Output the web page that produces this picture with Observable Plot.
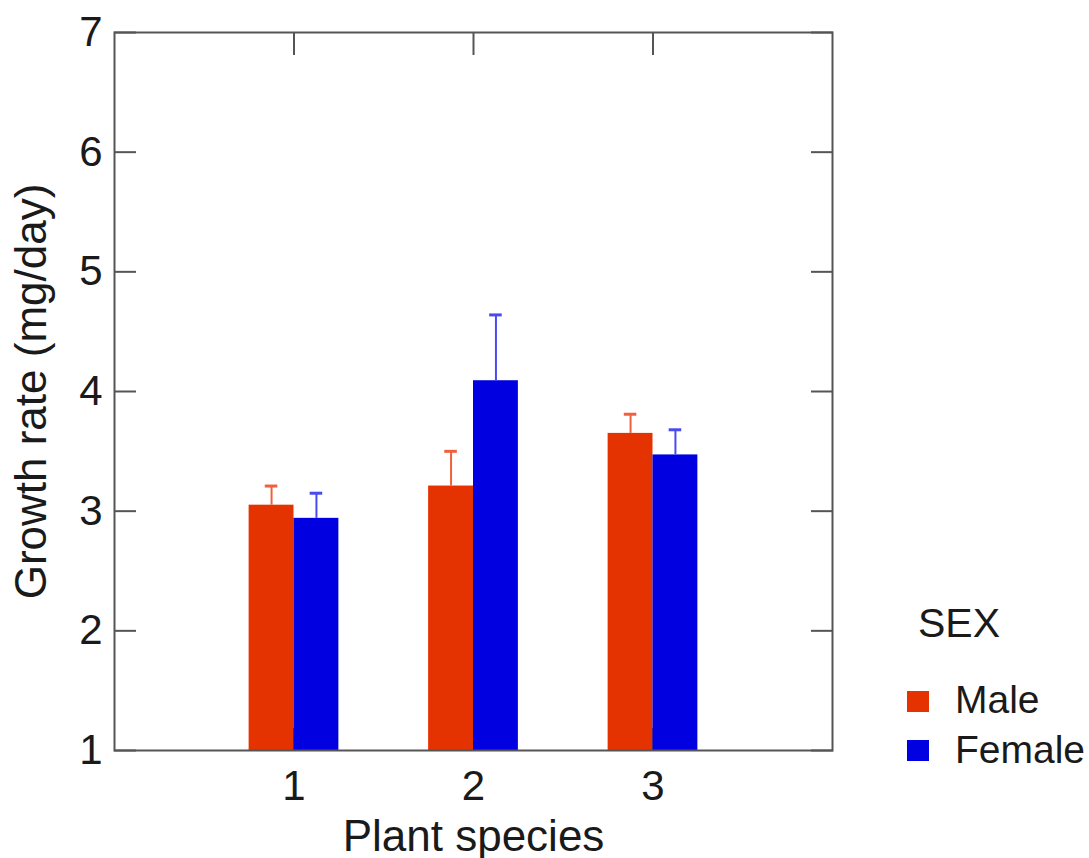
<!DOCTYPE html>
<html><head><meta charset="utf-8">
<script src="https://cdn.jsdelivr.net/npm/d3@7"></script>
<script src="https://cdn.jsdelivr.net/npm/@observablehq/plot@0.6"></script>
<style>
body{margin:0;background:#fff;}
#wrap{position:relative;width:1089px;height:858px;font-family:"Liberation Sans",Arial,sans-serif;color:#1a1a1a;}
#wrap svg{position:absolute;left:0;top:0;}
.leg{position:absolute;line-height:1;white-space:nowrap;}
.sw{position:absolute;width:22px;height:21px;}
</style></head><body>
<div id="wrap"></div>
<script>
const species = [1, 2, 3];
const sexes = ["Male", "Female"];
const maleMean = [3.05, 3.21, 3.65];
const maleSE = [0.16, 0.29, 0.16];
const femaleMean = [2.94, 4.09, 3.47];
const femaleSE = [0.21, 0.55, 0.21];
const yTicks = [1, 2, 3, 4, 5, 6, 7];
const yDomain = [1, 7];
const xDomain = [0, 4];
const xTitle = "Plant species";
const yTitle = "Growth rate (mg/day)";
const legendTitle = "SEX";
const barColors = ["#e43300", "#0000e0"];
const errColors = ["#f0603c", "#4a4af0"];

const rows = [];
species.forEach((s, i) => {
  rows.push({species: s, sex: "Male", mean: maleMean[i], se: maleSE[i]});
  rows.push({species: s, sex: "Female", mean: femaleMean[i], se: femaleSE[i]});
});

const barW = 0.25, capHalf = 0.035;
const off = d => sexes.indexOf(d.sex) - 1;
const center = d => d.species + (off(d) + 0.5) * barW;
const upper = d => d.mean + d.se;
const noText = () => "";

const errMarks = sexes.flatMap((s, i) => {
  const sub = rows.filter(r => r.sex === s);
  return [
    Plot.ruleX(sub, {x: center, y1: "mean", y2: upper, stroke: errColors[i], strokeWidth: 2}),
    Plot.ruleY(sub, {y: upper, x1: d => center(d) - capHalf, x2: d => center(d) + capHalf, stroke: errColors[i], strokeWidth: 3})
  ];
});

const tickStyle = {tickSize: -22, stroke: "#555", strokeWidth: 2};

const chart = Plot.plot({
  width: 1089, height: 858,
  marginLeft: 114, marginRight: 257, marginTop: 32, marginBottom: 108,
  style: {fontFamily: '"Liberation Sans", Arial, sans-serif', fontSize: "42px", color: "#1a1a1a", background: "#fff"},
  x: {domain: xDomain},
  y: {domain: yDomain},
  color: {domain: sexes, range: barColors},
  marks: [
    Plot.axisY({anchor: "left", ticks: yTicks, ...tickStyle, tickPadding: 34, tickFormat: d => d, label: null}),
    Plot.axisY({anchor: "left", ticks: [], label: yTitle, labelAnchor: "center", labelOffset: 100, labelArrow: "none", fontSize: 44}),
    Plot.axisY({anchor: "right", ticks: yTicks, ...tickStyle, tickFormat: noText, label: null}),
    Plot.axisX({anchor: "bottom", ticks: species, ...tickStyle, tickPadding: 42, tickFormat: d => d, label: null}),
    Plot.axisX({anchor: "bottom", ticks: [], label: xTitle, labelAnchor: "center", labelOffset: 100, labelArrow: "none", fontSize: 44}),
    Plot.axisX({anchor: "top", ticks: species, ...tickStyle, tickFormat: noText, label: null}),
    Plot.rect(rows, {x1: d => d.species + off(d) * barW, x2: d => d.species + (off(d) + 1) * barW, y1: () => yDomain[0], y2: "mean", fill: "sex"}),
    ...errMarks,
    Plot.frame({stroke: "#555", strokeWidth: 2})
  ]
});

const wrap = document.getElementById("wrap");
wrap.appendChild(chart);

const leg = [
  {text: legendTitle, left: 918, top: 603, size: 41},
  {text: sexes[0], left: 955, top: 680, size: 39},
  {text: sexes[1], left: 955, top: 730, size: 39}
];
leg.forEach(l => {
  const d = document.createElement("div");
  d.className = "leg";
  d.style.left = l.left + "px"; d.style.top = l.top + "px"; d.style.fontSize = l.size + "px";
  d.textContent = l.text;
  wrap.appendChild(d);
});
[[691, 0], [740, 1]].forEach(([top, i]) => {
  const s = document.createElement("div");
  s.className = "sw";
  s.style.left = "907px"; s.style.top = top + "px"; s.style.background = barColors[i];
  wrap.appendChild(s);
});
</script>
</body></html>
